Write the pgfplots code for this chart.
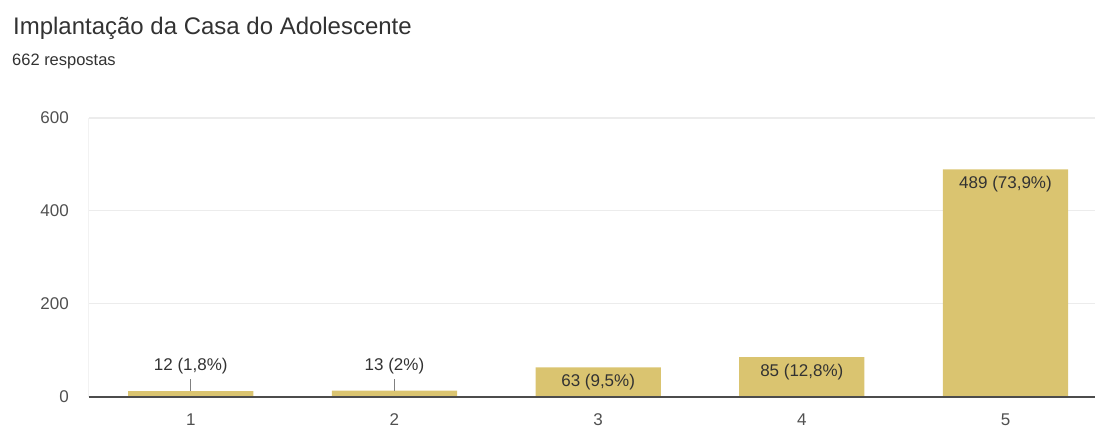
\documentclass[border=0pt]{standalone}
\usepackage{pgfplots}
\pgfplotsset{compat=1.18}
\usepackage{pgfplotstable}
\usepackage{fontspec}
\setmainfont{Liberation Sans}

\definecolor{barcol}{RGB}{218,196,112}
\definecolor{txt}{RGB}{50,50,50}
\definecolor{ticktxt}{RGB}{80,80,80}
\definecolor{gridcol}{RGB}{236,236,236}

% x = rating, y = number of answers
\pgfplotstableread{
x y label
1 12 {12 (1,8\%)}
2 13 {13 (2\%)}
3 63 {63 (9,5\%)}
4 85 {85 (12,8\%)}
5 489 {489 (73,9\%)}
}\datatable

\pgfplotstableread{
x y label
1 12 {12 (1,8\%)}
2 13 {13 (2\%)}
}\small

\pgfplotstableread{
x y label
3 63 {63 (9,5\%)}
4 85 {85 (12,8\%)}
5 489 {489 (73,9\%)}
}\big

\begin{document}
\begin{tikzpicture}
\path (-89pt,-31pt) rectangle (1007pt,397pt);
\node[anchor=base west, inner sep=0, text=txt, font=\fontsize{24}{28}\selectfont]
  at (-76pt,362pt) {Implantação da Casa do Adolescente};
\node[anchor=base west, inner sep=0, text=txt, font=\fontsize{16.5}{20}\selectfont]
  at (-77pt,331pt) {662 respostas};
\begin{axis}[
  at={(0pt,0pt)}, anchor=origin,
  scale only axis,
  width=1007pt, height=279pt,
  xmin=0.5, xmax=5.44,
  ymin=0, ymax=600,
  xtick={1,2,3,4,5},
  ytick={0,200,400,600},
  axis line style={draw=none},
  major tick length=0pt,
  ymajorgrids,
  grid style={gridcol, line width=1.2pt},
  tick label style={text=ticktxt, font=\fontsize{17}{20}\selectfont},
  /pgf/number format/assume math mode=true,
  xticklabel style={anchor=center, yshift=-23pt},
  yticklabel style={anchor=east, inner sep=0pt, xshift=-20pt},
  clip=false,
]
\draw[gridcol!70!white, line width=1pt] (axis cs:0.5,0) -- (axis cs:0.5,600);
\addplot[ybar, bar width=0.615, fill=barcol, draw=none] table[x=x, y=y] {\datatable};
\draw[black!70, line width=1.8pt] (axis cs:0.5,0) -- (axis cs:5.44,0);
\addplot[draw=none, mark=none, point meta=explicit symbolic,
  nodes near coords,
  every node near coord/.style={anchor=center, yshift=25pt, text=txt, font=\fontsize{17}{20}\selectfont}]
  table[x=x, y=y, meta=label] {\small};
\addplot[draw=none, mark=none, point meta=explicit symbolic,
  nodes near coords,
  every node near coord/.style={anchor=north, yshift=-3pt, text=txt, font=\fontsize{17}{20}\selectfont}]
  table[x=x, y=y, meta=label] {\big};
\draw[black!50, line width=0.8pt] (axis cs:1,12) -- (axis cs:1,38);
\draw[black!50, line width=0.8pt] (axis cs:2,13) -- (axis cs:2,38);
\end{axis}
\end{tikzpicture}
\end{document}
